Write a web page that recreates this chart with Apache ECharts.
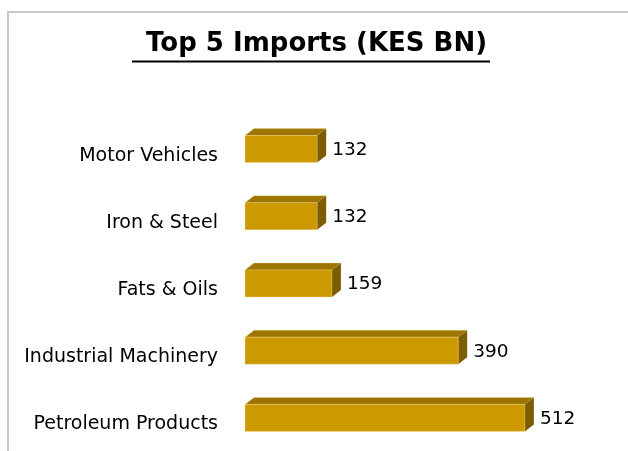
<!DOCTYPE html>
<html>
<head>
<meta charset="utf-8">
<script src="https://cdn.jsdelivr.net/npm/echarts@6/dist/echarts.min.js"></script>
<style>
html,body{margin:0;padding:0;background:#fff;}
#chart{width:628px;height:451px;}
</style>
</head>
<body>
<div id="chart"></div>
<script>
var titleText = ' Top 5 Imports (KES BN)';
var categories = ['Motor Vehicles', 'Iron & Steel', 'Fats & Oils', 'Industrial Machinery', 'Petroleum Products'];
var values = [132, 132, 159, 390, 512];

var chart = echarts.init(document.getElementById('chart'));

var FRONT = '#CC9900', TOP = '#9C7600', SIDE = '#7C5D00';
var DX = 9, DY = 7;
var FONT = '"DejaVu Sans", sans-serif';

function renderItem(params, api) {
  var v = api.value(0);
  var c = api.value(1);
  var p0 = api.coord([0, c]);
  var p1 = api.coord([v, c]);
  var h = 27;
  var x0 = p0[0], x1 = p1[0];
  var yT = p0[1] - 13, yB = yT + h;
  return {
    type: 'group',
    children: [
      { type: 'polygon', shape: { points: [[x0, yT], [x0 + DX, yT - DY], [x1 + DX, yT - DY], [x1, yT]] },
        style: { fill: TOP, stroke: 'rgba(255,230,160,0.5)', lineWidth: 0.5 } },
      { type: 'polygon', shape: { points: [[x1, yT], [x1 + DX, yT - DY], [x1 + DX, yB - DY], [x1, yB]] },
        style: { fill: SIDE } },
      { type: 'rect', shape: { x: x0, y: yT, width: x1 - x0, height: h },
        style: { fill: FRONT, stroke: 'rgba(255,230,160,0.6)', lineWidth: 0.5 } },
      { type: 'text', x: x1 + DX + 6, y: yT + h / 2 + 1,
        style: { text: String(v), fill: '#000', fontFamily: FONT, fontSize: 18.5, verticalAlign: 'middle', align: 'left' } }
    ]
  };
}

chart.setOption({
  animation: false,
  backgroundColor: '#fff',
  title: {
    text: titleText,
    left: 132,
    top: 26,
    textStyle: { fontFamily: FONT, fontWeight: 'bold', fontSize: 26, color: '#000' }
  },
  graphic: [
    { type: 'line', shape: { x1: 132, y1: 61.5, x2: 490, y2: 61.5 }, style: { stroke: '#000', lineWidth: 2 } },
    { type: 'polyline', shape: { points: [[8, 451], [8, 12], [628, 12]] }, style: { stroke: '#c8c8c8', lineWidth: 2, fill: null } }
  ],
  grid: { left: 245, top: 115, width: 328, height: 340 },
  xAxis: { type: 'value', min: 0, max: 600, show: false },
  yAxis: {
    type: 'category', inverse: true, data: categories,
    axisLine: { show: false }, axisTick: { show: false }, splitLine: { show: false },
    axisLabel: {
      margin: 27,
      formatter: function (v) { return '{a|' + v + '}'; },
      rich: { a: { color: '#000', fontFamily: FONT, fontSize: 19, padding: [14, 0, 0, 0] } }
    }
  },
  series: [{
    type: 'custom',
    renderItem: renderItem,
    encode: { x: 0, y: 1 },
    data: values.map(function (v, i) { return [v, i]; })
  }]
});
</script>
</body>
</html>
